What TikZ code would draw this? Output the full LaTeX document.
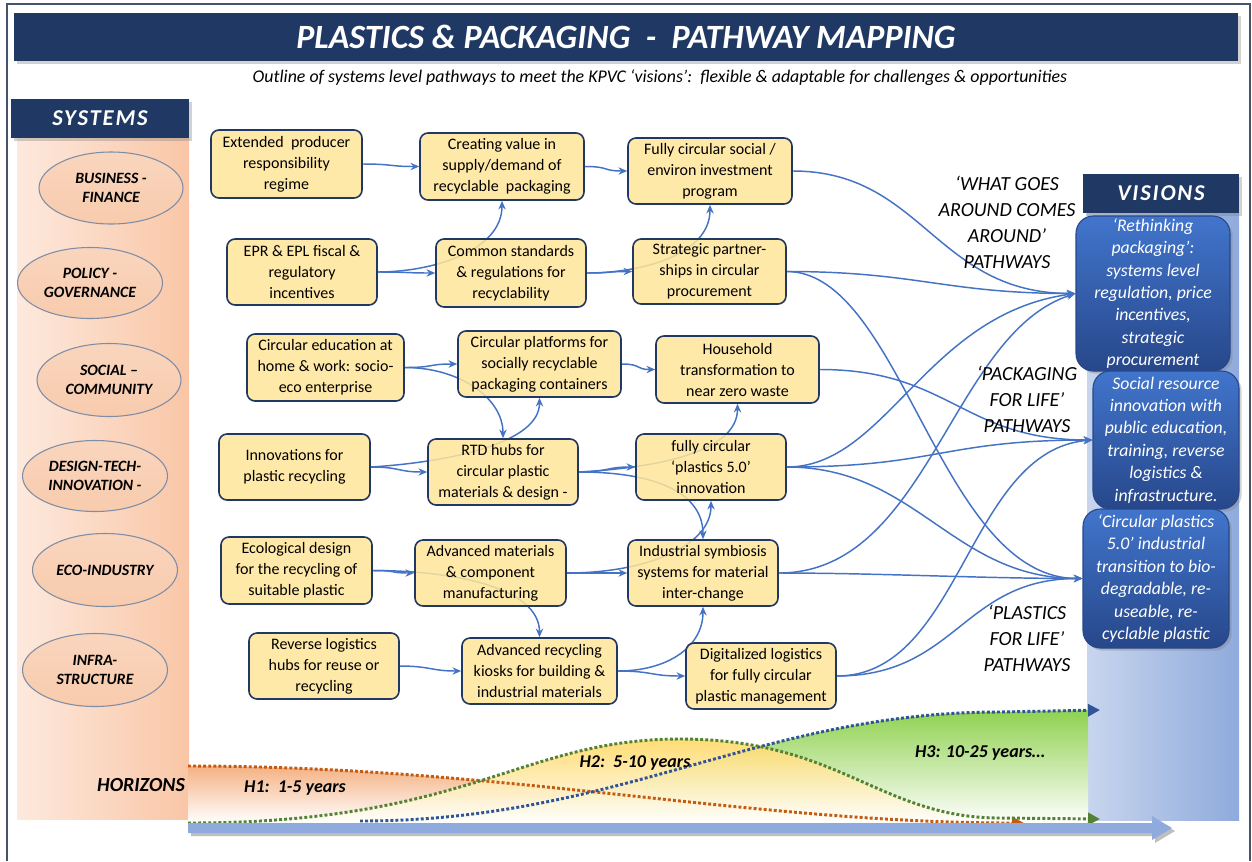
\documentclass[tikz,border=0pt]{standalone}
\usepackage{fontspec}
\setmainfont{Carlito}
\usetikzlibrary{arrows.meta,shapes.geometric,shadows}
\definecolor{navy}{HTML}{203864}
\definecolor{framec}{HTML}{44546A}
\definecolor{byellow}{HTML}{FFE699}
\definecolor{conn}{HTML}{4472C4}
\definecolor{peachL}{HTML}{FDE9DD}
\definecolor{peachR}{HTML}{F9C6A6}
\definecolor{ellfill}{HTML}{F8CBAD}
\definecolor{ellline}{HTML}{7F8CA6}
\definecolor{blueL}{HTML}{C8D5EE}
\definecolor{blueR}{HTML}{8FAADC}
\definecolor{vtop}{HTML}{4175CC}
\definecolor{vbot}{HTML}{27478A}
\definecolor{hOrange}{HTML}{C55A11}
\definecolor{hGreen}{HTML}{548235}
\definecolor{hBlue}{HTML}{2F5597}
\definecolor{hOne}{HTML}{F4B183}
\definecolor{hTwo}{HTML}{FFD966}
\definecolor{hThree}{HTML}{8FD14F}
\definecolor{axisc}{HTML}{8FAADC}
\pgfdeclarelayer{bg}
\pgfdeclarelayer{lines}
\pgfsetlayers{bg,lines,main}
\begin{document}
\begin{tikzpicture}[x=0.75pt,y=-0.75pt,
  sz/.style 2 args={minimum width=#1*0.75pt,minimum height=#2*0.75pt},
  ybox/.style={rectangle,rounded corners=6pt,draw=navy,line width=1.2pt,fill=byellow,
    fill opacity=0.85,draw opacity=1,text opacity=1,inner sep=0pt,align=center,
    font=\fontsize{12}{15.75}\selectfont,text=black},
  vbox/.style={rectangle,rounded corners=13pt,draw=vbot,line width=0.8pt,
    top color=vtop,bottom color=vbot,inner sep=0pt,align=center,text=white,
    font=\fontsize{13.3}{16.8}\selectfont\itshape,
    drop shadow={shadow xshift=2pt,shadow yshift=-2pt,opacity=0.35}},
  sysell/.style={ellipse,draw=ellline,line width=0.8pt,top color=ellfill!80!white,bottom color=ellfill,
    inner sep=0pt,align=center,font=\fontsize{11.8}{14}\selectfont\bfseries\itshape},
  hdr/.style={rectangle,fill=navy,inner sep=0pt,text=white,
    font=\fontsize{17}{20}\selectfont\bfseries\itshape\addfontfeature{LetterSpace=8},
    drop shadow={shadow xshift=2pt,shadow yshift=-2pt,opacity=0.35}},
  plabel/.style={align=center,inner sep=0pt,font=\fontsize{15}{19.5}\selectfont\itshape},
  hlabel/.style={inner sep=0pt,font=\fontsize{13.5}{16}\selectfont\bfseries\itshape},
  cn/.style={draw=conn,line width=1.1pt,-{Stealth[length=6.5pt,width=5.5pt]}},
  hz/.style={line width=2.2pt,dash pattern=on 2.2pt off 1.6pt}
]
\useasboundingbox (0,0) rectangle (1252,861);

% ---------- background layer ----------
\begin{pgfonlayer}{bg}
  \fill[white] (0,0) rectangle (1252,861);
  \draw[framec,line width=1.6pt] (7,861) -- (7,4) -- (1250,4) -- (1250,861);
  \shade[left color=peachL,right color=peachR] (17,138) rectangle (189,819);
  \shade[left color=blueL,right color=blueR] (1087,213) rectangle (1239,820);
  % horizon fills
  \shade[top color=hOne,bottom color=white] (188,766) .. controls (500,766) and (750,823) .. (1024,823) -- (188,823) -- cycle;
  \shade[top color=hThree,bottom color=white] (360,821) .. controls (620,821) and (760,712) .. (1000,712) -- (1088,710) -- (1088,823) -- (360,823) -- cycle;
  \shade[top color=hTwo,bottom color=white,fill opacity=0.9] (188,823) .. controls (470,823) and (520,739) .. (680,739) .. controls (840,739) and (880,818) .. (1000,818) -- (1088,819) -- (1088,823) -- cycle;
  % horizon curves
  \draw[hz,hOrange,-{Triangle[length=9pt,width=9pt]}] (188,766) .. controls (500,766) and (750,823) .. (1024,823);
  \draw[hz,hBlue,-{Triangle[length=9pt,width=9pt]}] (360,821) .. controls (620,821) and (760,712) .. (1000,712) -- (1100,710);
  \draw[hz,hGreen,-{Triangle[length=9pt,width=9pt]}] (188,823) .. controls (470,823) and (520,739) .. (680,739) .. controls (840,739) and (880,818) .. (1000,818) -- (1100,819);
  % time axis arrow
  \fill[black!25] (191,826) -- (1155,826) -- (1155,819) -- (1175,831) -- (1155,843) -- (1155,836) -- (191,836) -- cycle;
  \fill[axisc] (188,823) -- (1152,823) -- (1152,816) -- (1172,828) -- (1152,840) -- (1152,833) -- (188,833) -- cycle;
\end{pgfonlayer}

% ---------- title ----------
\node[rectangle,fill=navy,sz={1224}{48},inner sep=0pt,text=white,
  font=\fontsize{25.5}{28}\selectfont\bfseries\itshape,
  drop shadow={shadow xshift=2pt,shadow yshift=-2pt,opacity=0.35}] (T) at (626,37)
  {PLASTICS \& PACKAGING\ \ -\ \ PATHWAY MAPPING};
\node[inner sep=0pt,font=\fontsize{13.4}{16}\selectfont\itshape] (ST) at (660,78)
  {Outline of systems level pathways to meet the KPVC ‘visions’:\ \ flexible \& adaptable for challenges \& opportunities};

% ---------- systems ----------
\node[hdr,sz={178}{39}] (SYS) at (100,118.5) {SYSTEMS};
\node[sysell,sz={144}{72}] (S1) at (111,188) {BUSINESS -\\FINANCE};
\node[sysell,sz={145}{71}] (S2) at (90,283) {POLICY -\\GOVERNANCE};
\node[sysell,sz={144}{73}] (S3) at (109,380) {SOCIAL --\\COMMUNITY};
\node[sysell,sz={145}{71}] (S4) at (95,476) {DESIGN-TECH-\\INNOVATION -};
\node[sysell,sz={145}{73}] (S5) at (105,570) {ECO-INDUSTRY};
\node[sysell,sz={145}{73}] (S6) at (95,670) {INFRA-\\STRUCTURE};
\node[inner sep=0pt,font=\fontsize{15}{18}\selectfont\bfseries\itshape] (HOR) at (141,785) {HORIZONS};

% ---------- pathway boxes ----------
\node[ybox,sz={151}{68}] (A1) at (286.5,164) {Extended\ \ producer\\responsibility\\regime};
\node[ybox,sz={164}{67}] (A2) at (502,166.5) {Creating value in\\supply/demand of\\recyclable\ \ packaging};
\node[ybox,sz={164}{66}] (A3) at (710,171) {Fully circular social /\\environ investment\\program};
\node[ybox,sz={150}{66}] (B1) at (302,272) {EPR \& EPL fiscal \&\\regulatory\\incentives};
\node[ybox,sz={150}{68}] (B2) at (511,273) {Common standards\\\& regulations for\\recyclability};
\node[ybox,sz={153}{65}] (B3) at (709.5,271.5) {Strategic partner-\\ships in circular\\procurement};
\node[ybox,sz={157}{67}] (C1) at (325.5,367.5) {Circular education at\\home \& work: socio-\\eco enterprise};
\node[ybox,sz={163}{66}] (C2) at (539.5,364) {Circular platforms for\\socially recyclable\\packaging containers};
\node[ybox,sz={163}{67}] (C3) at (737.5,369.5) {Household\\transformation to\\near zero waste};
\node[ybox,sz={151}{66}] (D1) at (294.5,467) {Innovations for\\plastic recycling};
\node[ybox,sz={150}{66}] (D2) at (503,472) {RTD hubs for\\circular plastic\\materials \& design -};
\node[ybox,sz={150}{66}] (D3) at (711,467) {fully circular\\‘plastics 5.0’\\innovation};
\node[ybox,sz={151}{67}] (E1) at (296.5,570.5) {Ecological design\\for the recycling of\\suitable plastic};
\node[ybox,sz={151}{66}] (E2) at (490.5,573) {Advanced materials\\\& component\\manufacturing};
\node[ybox,sz={150}{66}] (E3) at (703,573) {Industrial symbiosis\\systems for material\\inter-change};
\node[ybox,sz={150}{66}] (F1) at (324,666) {Reverse logistics\\hubs for reuse or\\recycling};
\node[ybox,sz={155}{66}] (F2) at (539.5,671) {Advanced recycling\\kiosks for building \&\\industrial materials};
\node[ybox,sz={150}{66}] (F3) at (761,676) {Digitalized logistics\\for fully circular\\plastic management};

% ---------- visions ----------
\node[hdr,sz={156}{39}] (VIS) at (1161,193.5) {VISIONS};
\node[vbox,sz={154}{155}] (V1) at (1153,293.5) {‘Rethinking\\packaging’:\\systems level\\regulation, price\\incentives,\\strategic\\procurement};
\node[vbox,sz={146}{138}] (V2) at (1166,440) {Social resource\\innovation with\\public education,\\training, reverse\\logistics \&\\infrastructure.};
\node[vbox,sz={146}{139}] (V3) at (1156,578.5) {‘Circular plastics\\5.0’ industrial\\transition to bio-\\degradable, re-\\useable, re-\\cyclable plastic};

% ---------- pathway labels ----------
\node[plabel] (L1) at (1007,222) {‘WHAT GOES\\AROUND COMES\\AROUND’\\PATHWAYS};
\node[plabel] (L2) at (1027,399.5) {‘PACKAGING\\FOR LIFE’\\PATHWAYS};
\node[plabel] (L3) at (1027,638) {‘PLASTICS\\FOR LIFE’\\PATHWAYS};

% ---------- horizon labels ----------
\node[hlabel] (H1) at (295,788) {H1:\ \ 1-5 years};
\node[hlabel] (H2) at (635,763) {H2:\ \ 5-10 years};
\node[hlabel] (H3) at (980,753) {H3: 10-25 years…};

% ---------- connectors ----------
\begin{pgfonlayer}{lines}
  \draw[cn] (A1.east) .. controls +(30,0) and +(-30,0) .. (A2.west);
  \draw[cn] (A2.east) .. controls +(25,0) and +(-25,0) .. (A3.west);
  \draw[cn] (B1.east) .. controls +(30,0) and +(-30,0) .. (B2.west);
  \draw[cn] (B1.east) .. controls +(55,0) and +(0,50) .. (A2.south);
  \draw[cn] (B2.east) .. controls +(25,0) and +(-25,0) .. (B3.west);
  \draw[cn] (B2.east) .. controls +(55,0) and +(0,50) .. (A3.south);
  \draw[cn] (C1.east) .. controls +(30,0) and +(-30,0) .. (C2.west);
  \draw[cn] (C1.east) .. controls +(55,0) and +(0,-40) .. (D2.north);
  \draw[cn] (D1.east) .. controls +(80,-5) and +(0,45) .. (C2.south);
  \draw[cn] (D1.east) .. controls +(30,0) and +(-30,0) .. (D2.west);
  \draw[cn] (C2.east) .. controls +(20,0) and +(-20,0) .. (C3.west);
  \draw[cn] (D2.east) .. controls +(30,0) and +(-30,0) .. (D3.west);
  \draw[cn] (D2.east) .. controls +(90,-5) and +(0,45) .. (C3.south);
  \draw[cn] (D2.east) .. controls +(80,0) and +(0,-45) .. (E3.north);
  \draw[cn] (E1.east) .. controls +(25,0) and +(-25,0) .. (E2.west);
  \draw[cn] (E1.east) .. controls +(80,0) and +(0,-50) .. (F2.north);
  \draw[cn] (E2.east) .. controls +(30,0) and +(-30,0) .. (E3.west);
  \draw[cn] (E2.east) .. controls +(80,0) and +(0,45) .. (D3.south);
  \draw[cn] (F1.east) .. controls +(30,0) and +(-30,0) .. (F2.west);
  \draw[cn] (F2.east) .. controls +(35,0) and +(-35,0) .. (F3.west);
  \draw[cn] (F2.east) .. controls +(50,0) and +(0,40) .. (E3.south);
  % to visions
  \draw[cn] (A3.east) .. controls +(130,0) and +(-140,0) .. (V1.west);
  \draw[cn] (B3.east) .. controls +(130,0) and +(-130,0) .. (V1.west);
  \draw[cn] (B3.east) .. controls +(115,0) and +(-143,0) .. (V3.west);
  \draw[cn] (C3.east) .. controls +(130,0) and +(-130,0) .. (V2.west);
  \draw[cn] (D3.east) .. controls +(100,0) and +(-150,20) .. (V1.west);
  \draw[cn] (D3.east) .. controls +(150,0) and +(-150,0) .. (V2.west);
  \draw[cn] (D3.east) .. controls +(130,0) and +(-130,0) .. (V3.west);
  \draw[cn] (E3.east) .. controls +(150,0) and +(-125,40) .. (V1.west);
  \draw[cn] (E3.east) .. controls +(100,0) and +(-100,0) .. (V3.west);
  \draw[cn] (F3.east) .. controls +(125,0) and +(-125,10) .. (V2.west);
  \draw[cn] (F3.east) .. controls +(120,0) and +(-120,0) .. (V3.west);
\end{pgfonlayer}
\end{tikzpicture}
\end{document}
